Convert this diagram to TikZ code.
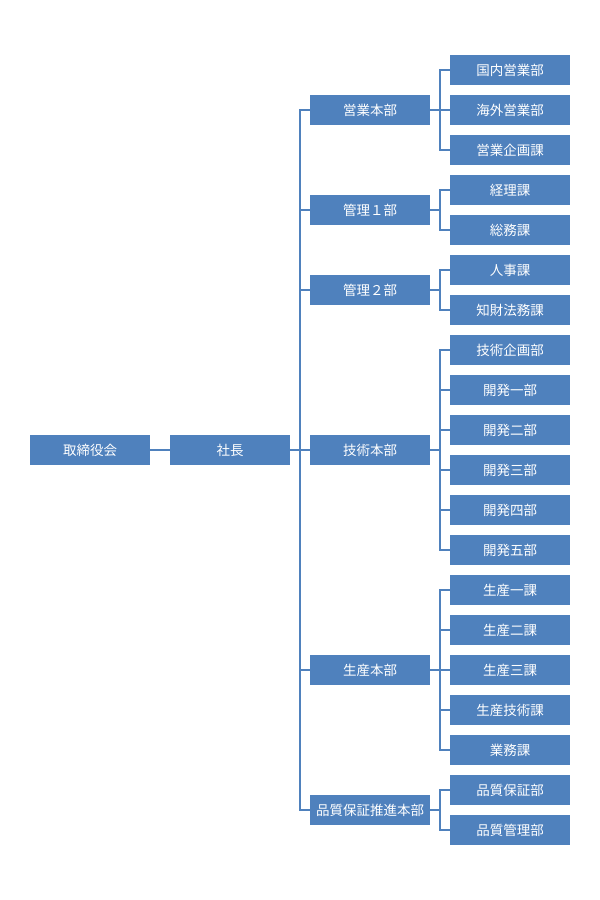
\documentclass[tikz,border=0pt]{standalone}
\usepackage{fontspec}
\newfontfamily\cjk{Noto Sans CJK JP}
\definecolor{boxblue}{HTML}{4F81BD}
\tikzset{
  box/.style={fill=boxblue, text=white, minimum width=120pt, minimum height=30pt, inner sep=0pt, font=\cjk\fontsize{13.5}{16}\selectfont},
  conn/.style={draw=boxblue, line width=2pt}
}
\begin{document}
\begin{tikzpicture}[x=1pt,y=-1pt]
\useasboundingbox (0,0) rectangle (600,900);
% level 0/1
\node[box] (torishimari) at (90,450) {取締役会};
\node[box] (shacho) at (230,450) {社長};
% level 2
\node[box] (eigyo) at (370,110) {営業本部};
\node[box] (kanri1) at (370,210) {管理１部};
\node[box] (kanri2) at (370,290) {管理２部};
\node[box] (gijutsu) at (370,450) {技術本部};
\node[box] (seisan) at (370,670) {生産本部};
\node[box] (hinshitsu) at (370,810) {品質保証推進本部};
% level 3
\node[box] (c1) at (510,70) {国内営業部};
\node[box] (c2) at (510,110) {海外営業部};
\node[box] (c3) at (510,150) {営業企画課};
\node[box] (c4) at (510,190) {経理課};
\node[box] (c5) at (510,230) {総務課};
\node[box] (c6) at (510,270) {人事課};
\node[box] (c7) at (510,310) {知財法務課};
\node[box] (c8) at (510,350) {技術企画部};
\node[box] (c9) at (510,390) {開発一部};
\node[box] (c10) at (510,430) {開発二部};
\node[box] (c11) at (510,470) {開発三部};
\node[box] (c12) at (510,510) {開発四部};
\node[box] (c13) at (510,550) {開発五部};
\node[box] (c14) at (510,590) {生産一課};
\node[box] (c15) at (510,630) {生産二課};
\node[box] (c16) at (510,670) {生産三課};
\node[box] (c17) at (510,710) {生産技術課};
\node[box] (c18) at (510,750) {業務課};
\node[box] (c19) at (510,790) {品質保証部};
\node[box] (c20) at (510,830) {品質管理部};
% connectors
\coordinate (trunkTop) at (300,110);
\coordinate (trunkBot) at (300,810);
\draw[conn] (torishimari.east) -- (shacho.east -| torishimari.east) -- (shacho.west);
\draw[conn] (shacho.east) -- (gijutsu.west);
\draw[conn] (eigyo.west) -- (trunkTop) -- (trunkBot) -- (hinshitsu.west);
\foreach \n in {kanri1,kanri2,seisan}{
  \draw[conn] (\n.west) -- (\n.west -| trunkTop);
}
% level 2 to level 3
\foreach \p/\a/\b/\mid in {eigyo/c1/c3/{c2}, kanri1/c4/c5/{}, kanri2/c6/c7/{}, gijutsu/c8/c13/{c9,c10,c11,c12}, seisan/c14/c18/{c15,c16,c17}, hinshitsu/c19/c20/{}}{
  \coordinate (bx) at ([xshift=10pt]\p.east);
  \draw[conn] (\p.east) -- (bx);
  \draw[conn] (\a.west) -- (\a.west -| bx) -- (\b.west -| bx) -- (\b.west);
  \foreach \m in \mid {
    \draw[conn] (\m.west) -- (\m.west -| bx);
  }
}
\end{tikzpicture}
\end{document}
